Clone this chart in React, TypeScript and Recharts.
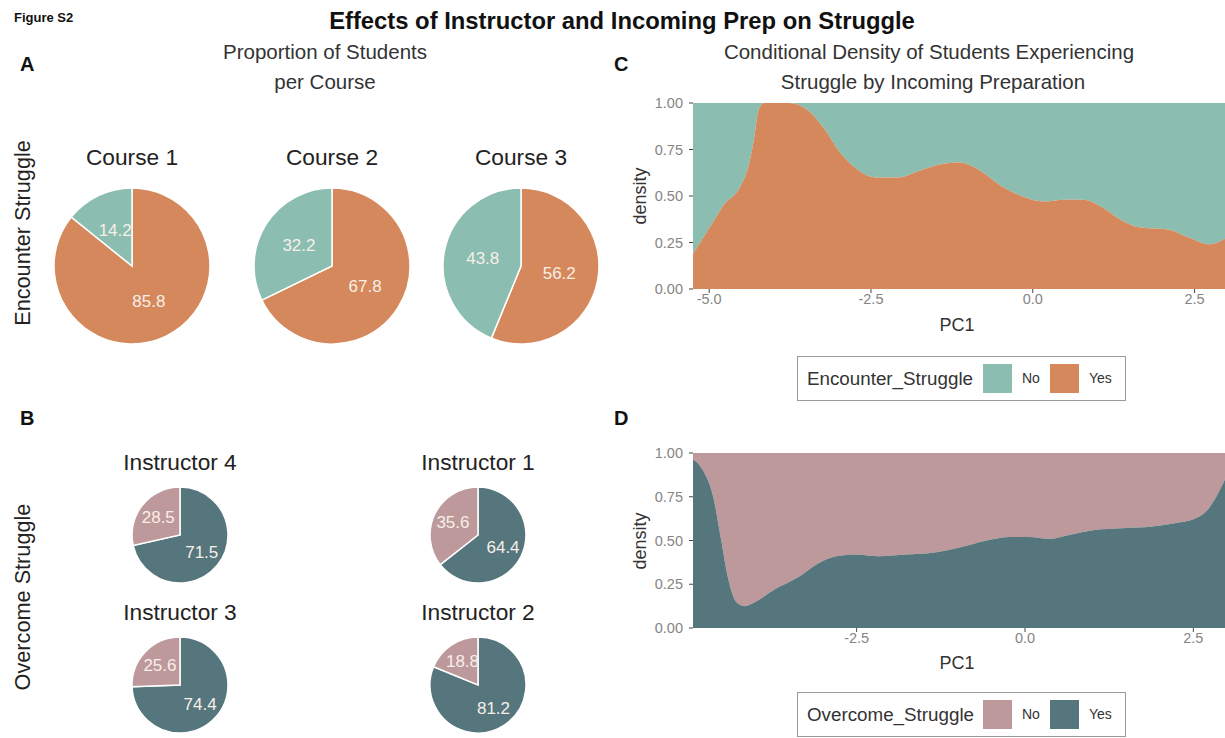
import React from "react";
import { PieChart, Pie, Cell, AreaChart, Area, XAxis, YAxis } from "recharts";

// panel A: encounter struggle per course (percent)
const courseNames = ["Course 1", "Course 2", "Course 3"];
const encounterYes = [85.8, 67.8, 56.2];
const encounterNo = [14.2, 32.2, 43.8];

// panel B: overcome struggle per instructor (percent)
const instructorNames = ["Instructor 4", "Instructor 1", "Instructor 3", "Instructor 2"];
const overcomeYes = [71.5, 64.4, 74.4, 81.2];
const overcomeNo = [28.5, 35.6, 25.6, 18.8];

// panel C: conditional density of Encounter_Struggle = Yes along PC1
const pc1C = [
  -5.25, -4.94, -4.78, -4.52, -4.4, -4.31, -4.23, -4.14, -3.95, -3.77, -3.47, -3.22, -2.97, -2.74,
  -2.44, -2.08, -1.72, -1.43, -1.13, -0.83, -0.47, -0.18, 0.18, 0.48, 0.78, 1.07, 1.37, 1.67,
  2.09, 2.39, 2.74, 2.97,
];
const encounterYesDensity = [
  0.19, 0.36, 0.45, 0.55, 0.65, 0.8, 0.97, 1.0, 1.0, 1.0, 0.96, 0.86, 0.73, 0.65,
  0.6, 0.6, 0.64, 0.67, 0.68, 0.64, 0.55, 0.5, 0.47, 0.48, 0.48, 0.44, 0.37, 0.33,
  0.32, 0.28, 0.24, 0.27,
];

// panel D: conditional density of Overcome_Struggle = Yes along PC1
const pc1D = [
  -4.93, -4.78, -4.63, -4.52, -4.4, -4.29, -4.17, -4.0, -3.72, -3.37, -3.09, -2.8, -2.51, -2.17,
  -1.77, -1.37, -0.97, -0.57, -0.22, 0.06, 0.35, 0.69, 1.03, 1.44, 1.89, 2.24, 2.52, 2.7, 2.84, 2.97,
];
const overcomeYesDensity = [
  0.965, 0.9, 0.75, 0.52, 0.27, 0.15, 0.125, 0.15, 0.22, 0.29, 0.365, 0.41, 0.42, 0.41,
  0.42, 0.43, 0.46, 0.5, 0.52, 0.52, 0.51, 0.535, 0.56, 0.57, 0.58, 0.6, 0.625, 0.67, 0.75, 0.85,
];

const ticksC = [-5.0, -2.5, 0.0, 2.5];
const ticksD = [-2.5, 0.0, 2.5];
const densityTicks = [0, 0.25, 0.5, 0.75, 1];

const TEAL = "#8bbdb0";
const ORANGE = "#d5885b";
const PINK = "#be999b";
const SLATE = "#56767d";
const FONT = "'Liberation Sans', Arial, sans-serif";

const coursePies = [
  { cx: 132, cy: 266, r: 78 },
  { cx: 332, cy: 266, r: 78 },
  { cx: 521, cy: 266, r: 78 },
];
const instructorPies = [
  { cx: 180, cy: 535, r: 48 },
  { cx: 478, cy: 535, r: 48 },
  { cx: 180, cy: 685, r: 48 },
  { cx: 478, cy: 685, r: 48 },
];

function sliceLabel(frac: number) {
  return (p: any) => {
    const rad = Math.PI / 180;
    const r = p.outerRadius * frac;
    const x = p.cx + r * Math.cos(-p.midAngle * rad);
    const y = p.cy + r * Math.sin(-p.midAngle * rad);
    return (
      <text x={x} y={y} textAnchor="middle" dominantBaseline="central" fill="#f8efe8"
        fontSize={17} fontFamily={FONT}>
        {Number(p.value).toFixed(1)}
      </text>
    );
  };
}

const tickStyle = { fill: "#858585", fontSize: 14.5, fontFamily: FONT };

function DensityPanel({ x, top, xs, ys, ticks, yesColor, noColor, plotH }: any) {
  const data = xs.map((v: number, i: number) => ({ pc1: v, yes: ys[i] }));
  return (
    <div style={{ position: "absolute", left: x, top }}>
      <AreaChart width={605} height={13 + plotH + 30} data={data}
        margin={{ top: 13, right: 0, left: 13, bottom: 0 }}>
        <XAxis dataKey="pc1" type="number" domain={[xs[0], xs[xs.length - 1]]} ticks={ticks}
          allowDataOverflow tickFormatter={(v: number) => v.toFixed(1)} tick={tickStyle}
          axisLine={false} tickSize={4} tickMargin={1} tickLine={{ stroke: "#444" }} height={30} />
        <YAxis type="number" domain={[0, 1]} ticks={densityTicks} width={60}
          tickFormatter={(v: number) => v.toFixed(2)} tick={tickStyle}
          axisLine={false} tickSize={4} tickMargin={6} tickLine={{ stroke: "#444" }} />
        <Area type="monotone" dataKey={(d: any) => [d.yes, 1]} stroke="none" fill={noColor}
          fillOpacity={1} isAnimationActive={false} />
        <Area type="monotone" dataKey="yes" stroke="none" fill={yesColor}
          fillOpacity={1} isAnimationActive={false} />
      </AreaChart>
    </div>
  );
}

function Legend({ top, title, noColor, yesColor }: any) {
  return (
    <g fontFamily={FONT}>
      <rect x={797.5} y={top + 0.5} width={328} height={44} fill="white" stroke="#9a9a9a" />
      <text x={807} y={top + 22} dominantBaseline="central" fontSize={18.8} fill="#333">{title}</text>
      <rect x={983} y={top + 8} width={29} height={29} fill={noColor} />
      <text x={1022} y={top + 22} dominantBaseline="central" fontSize={14} fill="#333">No</text>
      <rect x={1050} y={top + 8} width={29} height={29} fill={yesColor} />
      <text x={1089} y={top + 22} dominantBaseline="central" fontSize={14} fill="#333">Yes</text>
    </g>
  );
}

export default function App() {
  return (
    <div style={{ position: "absolute", left: 0, top: 0, width: 1225, height: 738, background: "white", overflow: "hidden" }}>
      <div style={{ position: "absolute", left: 0, top: 0 }}>
        <PieChart width={620} height={738} margin={{ top: 0, right: 0, bottom: 0, left: 0 }}>
          {coursePies.map((c, i) => (
            <Pie key={courseNames[i]} data={[{ name: "Yes", value: encounterYes[i] }, { name: "No", value: encounterNo[i] }]}
              dataKey="value" cx={c.cx} cy={c.cy} outerRadius={c.r} startAngle={90} endAngle={-270}
              stroke="white" strokeWidth={1.5} label={sliceLabel(0.5)} labelLine={false}
              isAnimationActive={false}>
              <Cell fill={ORANGE} />
              <Cell fill={TEAL} />
            </Pie>
          ))}
          {instructorPies.map((c, i) => (
            <Pie key={instructorNames[i]} data={[{ name: "Yes", value: overcomeYes[i] }, { name: "No", value: overcomeNo[i] }]}
              dataKey="value" cx={c.cx} cy={c.cy} outerRadius={c.r} startAngle={90} endAngle={-270}
              stroke="white" strokeWidth={1.5} label={sliceLabel(0.58)} labelLine={false}
              isAnimationActive={false}>
              <Cell fill={SLATE} />
              <Cell fill={PINK} />
            </Pie>
          ))}
        </PieChart>
      </div>

      <DensityPanel x={620} top={90} xs={pc1C} ys={encounterYesDensity} ticks={ticksC}
        yesColor={ORANGE} noColor={TEAL} plotH={186} />
      <DensityPanel x={620} top={440} xs={pc1D} ys={overcomeYesDensity} ticks={ticksD}
        yesColor={SLATE} noColor={PINK} plotH={175} />

      <svg width={1225} height={738} style={{ position: "absolute", left: 0, top: 0, pointerEvents: "none" }}>
        <g fontFamily={FONT}>
          <text x={14} y={17} dominantBaseline="central" fontSize={13} fontWeight="bold" fill="#111">Figure S2</text>
          <text x={622} y={20} textAnchor="middle" dominantBaseline="central" fontSize={23.8} fontWeight="bold" fill="#111">
            Effects of Instructor and Incoming Prep on Struggle
          </text>
          <text x={20} y={64} dominantBaseline="central" fontSize={20} fontWeight="bold" fill="#111">A</text>
          <text x={20} y={418} dominantBaseline="central" fontSize={20} fontWeight="bold" fill="#111">B</text>
          <text x={614} y={64} dominantBaseline="central" fontSize={20} fontWeight="bold" fill="#111">C</text>
          <text x={614} y={418} dominantBaseline="central" fontSize={20} fontWeight="bold" fill="#111">D</text>

          <text x={325} y={51} textAnchor="middle" dominantBaseline="central" fontSize={20.5} fill="#333">Proportion of Students</text>
          <text x={325} y={81} textAnchor="middle" dominantBaseline="central" fontSize={20.5} fill="#333">per Course</text>
          <text x={929} y={51} textAnchor="middle" dominantBaseline="central" fontSize={20.5} fill="#333">Conditional Density of Students Experiencing</text>
          <text x={933} y={81} textAnchor="middle" dominantBaseline="central" fontSize={20.5} fill="#333">Struggle by Incoming Preparation</text>

          {coursePies.map((c, i) => (
            <text key={i} x={c.cx} y={157} textAnchor="middle" dominantBaseline="central" fontSize={22.7} fill="#222">{courseNames[i]}</text>
          ))}
          {instructorPies.map((c, i) => (
            <text key={i} x={c.cx} y={c.cy - 73} textAnchor="middle" dominantBaseline="central" fontSize={22.7} fill="#222">{instructorNames[i]}</text>
          ))}

          <text transform="translate(22,233) rotate(-90)" textAnchor="middle" dominantBaseline="central" fontSize={21.7} fill="#222">Encounter Struggle</text>
          <text transform="translate(22,597) rotate(-90)" textAnchor="middle" dominantBaseline="central" fontSize={21.7} fill="#222">Overcome Struggle</text>

          <text transform="translate(640,196) rotate(-90)" textAnchor="middle" dominantBaseline="central" fontSize={18} fill="#333">density</text>
          <text transform="translate(640,541) rotate(-90)" textAnchor="middle" dominantBaseline="central" fontSize={18} fill="#333">density</text>
          <text x={957} y={325} textAnchor="middle" dominantBaseline="central" fontSize={18} fill="#333">PC1</text>
          <text x={957} y={663} textAnchor="middle" dominantBaseline="central" fontSize={18} fill="#333">PC1</text>
        </g>
        <Legend top={356} title="Encounter_Struggle" noColor={TEAL} yesColor={ORANGE} />
        <Legend top={692} title="Overcome_Struggle" noColor={PINK} yesColor={SLATE} />
      </svg>
    </div>
  );
}
